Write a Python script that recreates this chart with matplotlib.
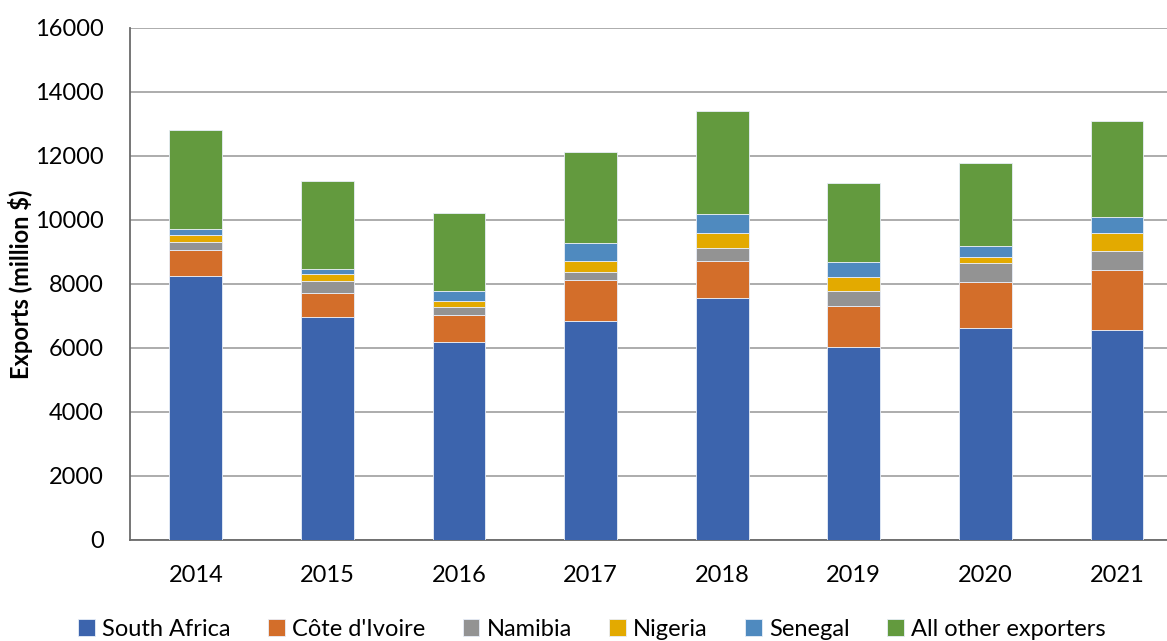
import matplotlib
matplotlib.use("Agg")
import matplotlib.pyplot as plt
import numpy as np

years = ["2014", "2015", "2016", "2017", "2018", "2019", "2020", "2021"]
south_africa = [8240, 6979, 6198, 6854, 7573, 6042, 6635, 6552]
cote_divoire = [813, 750, 823, 1281, 1156, 1281, 1438, 1875]
namibia = [269, 375, 250, 250, 406, 469, 583, 615]
nigeria = [219, 198, 188, 344, 459, 427, 198, 562]
senegal = [168, 157, 312, 542, 604, 458, 334, 480]
all_other = [3113, 2749, 2458, 2864, 3198, 2469, 2593, 3010]

series_names = ["South Africa", "Côte d'Ivoire", "Namibia", "Nigeria", "Senegal", "All other exporters"]
series_values = [south_africa, cote_divoire, namibia, nigeria, senegal, all_other]
colors = ["#3c64ad", "#d36e2a", "#939393", "#e3aa00", "#4f8abf", "#639a3e"]

plt.rcParams['font.family'] = ['Lato', 'DejaVu Sans']

W, H = 1167, 641
fig = plt.figure(figsize=(W / 100, H / 100), dpi=100)
left, right, bottom, top = 130, 1167, 540, 28
ax = fig.add_axes([left / W, 1 - bottom / H, (right - left) / W, (bottom - top) / H])

x = np.arange(len(years))
base = np.zeros(len(years))
handles = []
for name, vals, c in zip(series_names, series_values, colors):
    v = np.array(vals, dtype=float)
    b = ax.bar(x, v, 0.4, bottom=base, color=c, edgecolor="#e8eef8", linewidth=0.6, label=name, zorder=3)
    handles.append(b)
    base += v

ax.set_xlim(-0.5, 7.38)
ax.set_ylim(0, 16000)
ax.set_yticks(np.arange(0, 16001, 2000))
ax.set_xticks(x)
ax.set_xticklabels(years)
ax.yaxis.grid(True, color="#a6a6a6", linewidth=1.3, zorder=0)
ax.set_axisbelow(True)
for s in ["top", "right"]:
    ax.spines[s].set_visible(False)
for s in ["left", "bottom"]:
    ax.spines[s].set_color("#6b6b6b")
    ax.spines[s].set_linewidth(1.3)
ax.tick_params(axis="both", length=0, labelsize=17, colors="black")
ax.tick_params(axis="y", pad=19)
ax.tick_params(axis="x", pad=18)
ax.set_ylabel("Exports (million $)", fontsize=17, fontweight="bold")
ax.yaxis.set_label_coords((33 - left) / (right - left), 0.5)

leg = fig.legend(handles=handles, labels=series_names, loc="center", ncol=6,
                 bbox_to_anchor=(592 / W, 1 - 629 / H), frameon=False, fontsize=17,
                 handlelength=0.7, handleheight=0.7, handletextpad=0.3, columnspacing=1.6,
                 borderaxespad=0, borderpad=0)

fig.savefig("out.png", dpi=100)
